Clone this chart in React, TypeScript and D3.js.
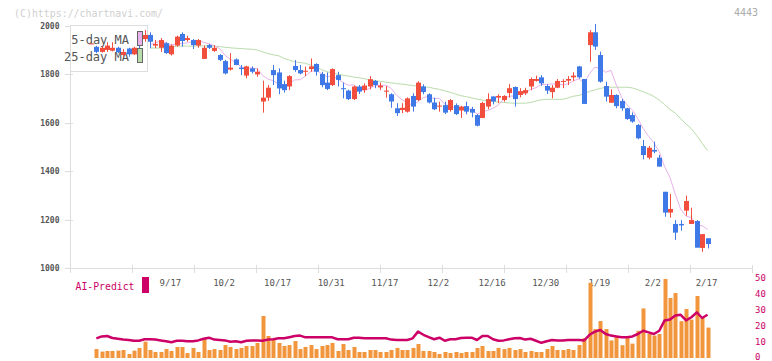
import React from 'react';
import * as d3 from 'd3';

// ---- Data (one entry per trading day, 8/26 .. 2/17) ----
const OPEN = [1928,1914,1893,1901,1898,1910,1880,1907,1883,1924,1946,1963,1919,1910,1929,1883,1919,1967,1942,1942,1919,1864,1921,1897,1880,1855,1820,1862,1828,1795,1825,1800,1688,1704,1818,1808,1760,1750,1835,1818,1812,1822,1843,1802,1766,1756,1797,1743,1733,1698,1750,1735,1750,1773,1746,1729,1718,1660,1653,1646,1711,1694,1750,1718,1684,1667,1673,1653,1673,1651,1669,1657,1632,1620,1667,1709,1704,1694,1723,1748,1715,1722,1750,1773,1788,1752,1727,1745,1769,1774,1788,1833,1781,1921,1974,1880,1752,1683,1715,1690,1660,1632,1591,1504,1456,1488,1456,1315,1229,1182,1182,1237,1182,1194,1083,1123];
const HIGH = [1928,1918,1914,1933,1933,1914,1905,1910,1914,1942,1983,1974,1942,1950,1933,1924,1960,1974,1960,1946,1946,1919,1926,1921,1884,1860,1888,1866,1839,1836,1833,1825,1774,1756,1839,1825,1774,1797,1859,1839,1832,1866,1846,1811,1808,1825,1811,1766,1737,1754,1756,1763,1793,1777,1767,1752,1722,1681,1681,1705,1722,1772,1759,1722,1704,1687,1687,1698,1680,1670,1687,1666,1636,1687,1722,1709,1718,1714,1760,1750,1743,1745,1787,1795,1797,1759,1756,1781,1780,1793,1809,1835,1781,1983,2008,1894,1770,1738,1718,1698,1662,1643,1595,1529,1504,1522,1467,1315,1306,1198,1198,1299,1249,1198,1140,1123];
const LOW = [1928,1888,1890,1893,1895,1888,1873,1873,1880,1888,1935,1908,1908,1893,1885,1878,1915,1915,1935,1905,1910,1864,1905,1893,1855,1800,1816,1838,1797,1784,1804,1790,1642,1691,1756,1718,1725,1735,1811,1800,1793,1811,1795,1747,1735,1752,1750,1701,1694,1694,1719,1724,1738,1743,1735,1704,1662,1628,1640,1642,1646,1690,1718,1680,1653,1646,1636,1646,1632,1620,1635,1623,1585,1619,1656,1676,1681,1687,1704,1667,1705,1715,1735,1770,1753,1719,1701,1743,1743,1756,1773,1782,1678,1852,1901,1766,1688,1683,1660,1650,1612,1600,1532,1449,1449,1474,1419,1212,1208,1116,1154,1216,1182,1084,1067,1081];
const CLOSE = [1928,1893,1910,1919,1910,1892,1893,1883,1910,1921,1963,1935,1926,1942,1888,1919,1956,1938,1950,1921,1942,1910,1910,1910,1860,1804,1828,1839,1822,1833,1811,1811,1704,1745,1797,1742,1735,1793,1818,1804,1815,1833,1811,1756,1740,1822,1777,1739,1698,1750,1729,1754,1780,1756,1754,1733,1688,1640,1662,1701,1667,1766,1727,1684,1656,1671,1642,1694,1636,1667,1646,1642,1588,1682,1698,1688,1711,1711,1743,1698,1731,1735,1781,1781,1763,1733,1745,1773,1773,1781,1795,1788,1678,1974,1915,1770,1708,1715,1669,1660,1616,1605,1536,1467,1497,1481,1419,1229,1244,1146,1176,1277,1198,1084,1140,1099];
const VOLUME = [0,5.6,4,4.4,4.4,4.6,5,2.5,4.6,6.3,10.2,5,3.75,3.75,5.6,4.4,6.9,6.9,3.1,6.3,3.75,12.5,5,5.6,5,8.1,6.9,5.6,6.3,7.5,7.5,9.4,26.25,13.75,11.25,9.4,7.5,8.1,10.6,5.6,6.9,8.1,5.6,7.5,8.1,9.4,4.4,8.75,5,6.9,3.75,3.75,5,5,3.75,3.75,5,6.3,5,5,6.3,8.75,4.4,4.4,3.75,2.5,3.75,3.1,3.75,3.1,3.75,3.75,6.3,7.5,4.4,4.4,6.3,5.6,6.3,5,5.6,3.75,4.4,3.75,3.75,5.6,7.5,5,5,5.6,5,8.1,12.5,47,18.1,23.1,18.1,11,13,8,13,9,17,31,15,14,15,49.4,37.5,40.6,23,30.6,24,38.75,25,19];
const AI_PREDICT = [null,12.3,13.5,13.75,12.5,12.0,11.5,11.25,10.8,10.8,11.7,11.7,11.5,11.0,10.5,9.8,10.8,10.8,10.5,10.5,11.0,12.0,12.7,11.5,11.25,11.0,10.2,10.5,9.8,10.8,11.0,11.0,10.8,11.5,11.7,12.3,12.3,13.0,13.75,14.0,12.9,12.9,12.9,12.9,12.9,12.9,11.7,11.7,11.7,12.7,12.7,12.3,12.3,12.3,12.3,12.3,11.5,11.25,11.25,11.25,12.3,16.5,14.5,13.0,11.7,12.7,10.8,11.7,11.7,12.5,12.7,12.7,11.25,13.75,13.75,11.7,10.8,11.0,11.7,12.3,12.5,11.5,12.0,10.8,9.5,10.5,11.25,11.0,11.0,11.25,11.25,11.25,11.0,14.5,16.5,17.5,15.0,14.0,13.5,13.0,13.0,13.5,15.0,17.0,16.0,15.0,17.0,23.5,24.0,26.5,27.0,23.5,25.5,28.5,25.0,27.0];
const MA25 = [null,null,null,null,null,null,null,null,null,null,null,1909,1909,1909,1910,1913,1916,1917,1917,1917,1918,1918,1918,1917,1915,1912,1910,1908,1907,1905,1904,1901,1893,1886,1881,1877,1866,1859,1852,1849,1846,1838,1830,1820,1811,1806,1801,1797,1793,1789,1786,1782,1778,1774,1771,1768,1765,1762,1760,1757,1754,1751,1749,1747,1742,1738,1732,1726,1719,1712,1708,1703,1698,1694,1690,1688,1686,1684,1682,1681,1681,1681,1684,1690,1695,1697,1697,1697,1697,1703,1710,1713,1720,1730,1736,1742,1746,1747,1747,1747,1747,1744,1737,1728,1720,1709,1694,1675,1655,1640,1617,1595,1575,1547,1515,1485];
const DATE_LABELS = ['9/17','10/2','10/17','10/31','11/17','12/2','12/16','12/30','1/19','2/2','2/17'];
const DATE_LABEL_INDEX = [15,25,35,45,55,65,75,85,95,105,115];
const PRICE_TICKS = [1000,1200,1400,1600,1800,2000];
const AI_TICKS = [0,10,20,30,40,50];
const MA5_START = 11;

const RED = '#f24e3e';
const BLUE = '#3f79e8';
const MAGENTA = '#cc0066';
const ORANGE = '#f2963e';
const MONO = '"DejaVu Sans Mono", "Liberation Mono", monospace';

export default function App() {
  const n = CLOSE.length;
  const x = d3.scaleLinear().domain([0, n - 1]).range([91, 707.5]);
  const y = d3.scaleLinear().domain([1000, 2000]).range([268, 26]);
  const yv = d3.scaleLinear().domain([0, 50]).range([358, 278]);
  const gridX = d3.scaleLinear().domain([0, 11]).range([70, 752]);

  const ma5 = CLOSE.map((_, i) => (i >= MA5_START ? d3.mean(CLOSE.slice(i - 4, i + 1)) as number : null));

  const lineP = d3.line<number | null>()
    .defined((d) => d != null)
    .x((_, i) => x(i))
    .y((d) => y(d as number));
  const lineAI = d3.line<number | null>()
    .defined((d) => d != null)
    .x((_, i) => x(i))
    .y((d) => yv(d as number));

  return (
    <svg width={772} height={361} style={{ position: 'absolute', left: 0, top: 0, background: '#fff' }}
      fontFamily={MONO}>
      <rect x={0} y={0} width={772} height={361} fill="#fff" />
      <text x={14} y={16.5} fontSize={10} fill="#cfcfcf" textLength={149} lengthAdjust="spacingAndGlyphs">(C)https://chartnavi.com/</text>
      <text x={758} y={16} fontSize={10} fill="#aaa" textAnchor="end">4443</text>

      {/* axes */}
      <line x1={70.5} x2={70.5} y1={26} y2={268} stroke="#ddd" />
      <line x1={70} x2={752} y1={268.5} y2={268.5} stroke="#ddd" />
      {PRICE_TICKS.map((t) => (
        <g key={t}>
          <line x1={65} x2={73} y1={Math.round(y(t)) + 0.5} y2={Math.round(y(t)) + 0.5} stroke="#ddd" />
          <text x={59.5} y={y(t) + 3} fontSize={8} fontWeight="bold" fill="#555" textAnchor="end">{t}</text>
        </g>
      ))}
      {d3.range(12).map((k) => (
        <line key={k} x1={Math.round(gridX(k)) + 0.5} x2={Math.round(gridX(k)) + 0.5} y1={265} y2={273} stroke="#ddd" />
      ))}
      {DATE_LABELS.map((lab, k) => (
        <text key={lab} x={x(DATE_LABEL_INDEX[k]) - 1} y={286} fontSize={9} fill="#555" textAnchor="middle">{lab}</text>
      ))}

      {/* moving averages */}
      <path d={lineP(MA25) || ''} fill="none" stroke="#b9dcab" strokeWidth={1} />
      <path d={lineP(ma5) || ''} fill="none" stroke="#e9b2ea" strokeWidth={1} />

      {/* legend box */}
      <rect x={70.5} y={25.5} width={77} height={46} fill="#fff" stroke="#ddd" />
      <text x={129} y={44} fontSize={12} fill="#555" textAnchor="end">5-day MA</text>
      <text x={129} y={61} fontSize={12} fill="#555" textAnchor="end">25-day MA</text>

      {/* candles */}
      {CLOSE.map((c, i) => {
        const o = OPEN[i];
        const up = c >= o;
        const col = up ? RED : BLUE;
        const cx = Math.round(x(i));
        const top = y(Math.max(o, c));
        const h = Math.max(1, Math.abs(y(o) - y(c)));
        return (
          <g key={i}>
            {HIGH[i] !== LOW[i] && (
              <line x1={cx + 0.5} x2={cx + 0.5} y1={y(HIGH[i])} y2={y(LOW[i])} stroke={col} strokeWidth={1} />
            )}
            <rect x={cx - 2} y={top} width={5} height={h} fill={col} />
          </g>
        );
      })}

      {/* legend swatches */}
      <rect x={137.5} y={31.5} width={5} height={14} fill="#e9b2ea" stroke="#666" />
      <rect x={137.5} y={48.5} width={5} height={14} fill="#b9dcab" stroke="#666" />

      {/* AI-Predict panel */}
      <text x={75.5} y={290} fontSize={10} fill={MAGENTA} textLength={59} lengthAdjust="spacingAndGlyphs">AI-Predict</text>
      <rect x={142} y={277} width={7} height={16} fill={MAGENTA} />
      {VOLUME.map((v, i) => (v > 0 ? (
        <rect key={i} x={Math.round(x(i)) - 1.5} y={yv(v)} width={4} height={yv(0) - yv(v)} fill={ORANGE} />
      ) : null))}
      <path d={lineAI(AI_PREDICT) || ''} fill="none" stroke={MAGENTA} strokeWidth={2.5} strokeLinejoin="round" />
      {AI_TICKS.map((t) => (
        <text key={t} x={755} y={Math.min(yv(t) + 3, 359.5)} fontSize={9} fill={MAGENTA}>{t}</text>
      ))}
    </svg>
  );
}
